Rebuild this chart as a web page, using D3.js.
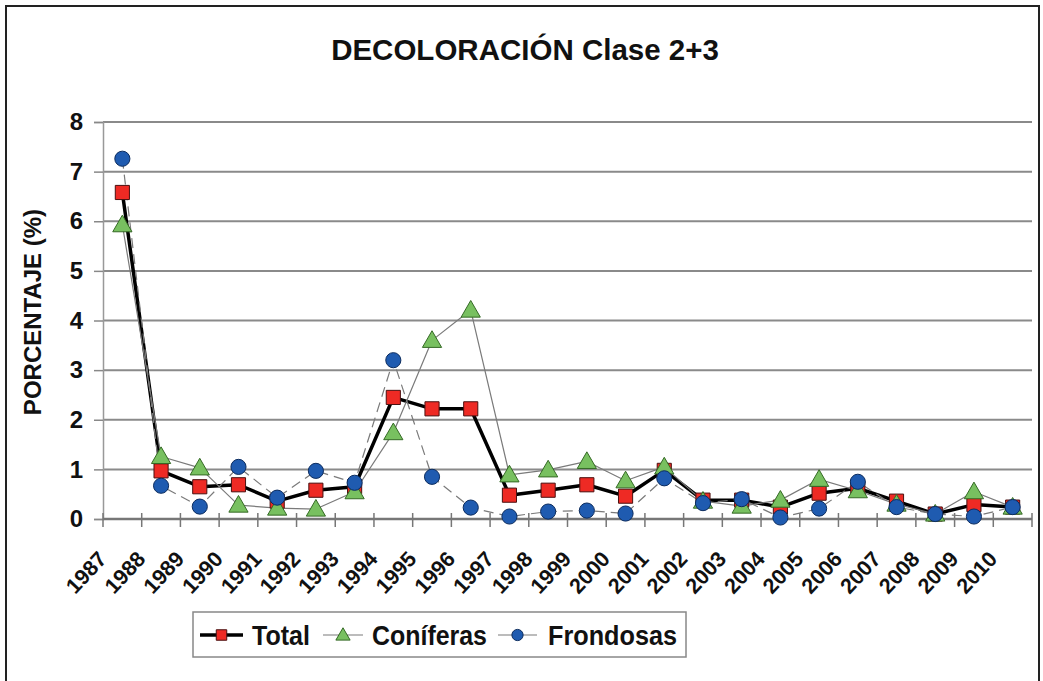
<!DOCTYPE html>
<html>
<head>
<meta charset="utf-8">
<style>
  body { margin: 0; background: #fff; }
  svg { display: block; font-family: "Liberation Sans", Arial, sans-serif; }
</style>
</head>
<body>
<svg id="chart" width="1043" height="681"></svg>
<script src="https://cdn.jsdelivr.net/npm/d3@7"></script>
<script>

var years = ["1987", "1988", "1989", "1990", "1991", "1992", "1993", "1994", "1995", "1996", "1997", "1998",
             "1999", "2000", "2001", "2002", "2003", "2004", "2005", "2006", "2007", "2008", "2009", "2010"];
var total = [6.58, 0.97, 0.65, 0.69, 0.36, 0.58, 0.65, 2.45, 2.22, 2.22, 0.48, 0.58,
             0.69, 0.46, 0.98, 0.38, 0.38, 0.24, 0.52, 0.62, 0.36, 0.10, 0.29, 0.24];
var coniferas = [5.93, 1.26, 1.03, 0.28, 0.22, 0.20, 0.55, 1.74, 3.60, 4.21, 0.89, 0.99,
                 1.16, 0.77, 1.05, 0.36, 0.26, 0.38, 0.80, 0.57, 0.30, 0.10, 0.55, 0.24];
var frondosas = [7.26, 0.67, 0.25, 1.05, 0.43, 0.97, 0.73, 3.20, 0.85, 0.23, 0.05, 0.15,
                 0.17, 0.11, 0.82, 0.32, 0.40, 0.03, 0.21, 0.75, 0.24, 0.10, 0.05, 0.24];
var yTicks = [0, 1, 2, 3, 4, 5, 6, 7, 8];
var seriesNames = ["Total", "Coníferas", "Frondosas"];

var svg = d3.select("svg#chart"),
    margin = {top: 122, right: 11, bottom: 162, left: 103},
    width = +svg.attr("width") - margin.left - margin.right,
    height = +svg.attr("height") - margin.top - margin.bottom;

// outer frame
svg.append("rect")
    .attr("x", 6).attr("y", 6)
    .attr("width", 1033).attr("height", 690)
    .attr("fill", "#fff")
    .attr("stroke", "#222")
    .attr("stroke-width", 2);

svg.append("text")
    .attr("x", 525).attr("y", 60)
    .attr("text-anchor", "middle")
    .attr("font-size", 29.5)
    .attr("font-weight", "bold")
    .attr("fill", "#111")
    .text("DECOLORACIÓN Clase 2+3");

var g = svg.append("g").attr("transform", "translate(" + margin.left + "," + margin.top + ")");

var x = d3.scaleBand().domain(years).range([0, width]);
var y = d3.scaleLinear().domain([0, 8]).range([height, 0]);

// gridlines
g.append("g")
    .selectAll("line")
    .data(yTicks.filter(function(d) { return d > 0; }))
    .enter().append("line")
      .attr("x1", 0).attr("x2", width)
      .attr("y1", function(d) { return y(d); })
      .attr("y2", function(d) { return y(d); })
      .attr("stroke", "#8a8a8a")
      .attr("stroke-width", 2);

// y axis
var yAxis = g.append("g")
    .call(d3.axisLeft(y).tickValues(yTicks).tickSize(9).tickPadding(11).tickFormat(d3.format("d")));
yAxis.select(".domain").attr("stroke", "#999").attr("stroke-width", 1.5);
yAxis.selectAll(".tick line").attr("stroke", "#888").attr("stroke-width", 1.5);
yAxis.selectAll(".tick text")
    .attr("font-size", 24)
    .attr("font-weight", "bold")
    .attr("font-family", "Liberation Sans, Arial, sans-serif")
    .attr("fill", "#111");

// x axis: tick marks crossing at band boundaries
var xAxis = g.append("g").attr("transform", "translate(0," + height + ")");
xAxis.append("line")
    .attr("x1", 0).attr("x2", width)
    .attr("stroke", "#777").attr("stroke-width", 2.5);
xAxis.selectAll("line.tk")
    .data(years.concat(["end"]))
    .enter().append("line")
      .attr("class", "tk")
      .attr("x1", function(d, i) { return i < years.length ? x(d) : width; })
      .attr("x2", function(d, i) { return i < years.length ? x(d) : width; })
      .attr("y1", -6).attr("y2", 8)
      .attr("stroke", "#777").attr("stroke-width", 1.5);
xAxis.selectAll("text")
    .data(years)
    .enter().append("text")
      .attr("transform", function(d) { return "translate(" + (x(d) + 5) + ",41) rotate(-47)"; })
      .attr("text-anchor", "end")
      .attr("font-size", 21.5)
      .attr("font-weight", "bold")
      .attr("fill", "#111")
      .text(function(d) { return d; });

// y axis title
svg.append("text")
    .attr("transform", "translate(41,312) rotate(-90)")
    .attr("text-anchor", "middle")
    .attr("font-size", 24)
    .attr("font-weight", "bold")
    .attr("fill", "#111")
    .text("PORCENTAJE (%)");

var cx = function(d, i) { return x(years[i]) + x.bandwidth() / 2; };
var line = d3.line()
    .x(function(d, i) { return cx(d, i); })
    .y(function(d) { return y(d); });

var styles = [
  {line: "#000", lw: 3.5, dash: null, shape: d3.symbolSquare, size: 200, fill: "#ee2a24", stroke: "#4a1010"},
  {line: "#7a7a7a", lw: 1.2, dash: null, shape: d3.symbolTriangle, size: 160, fill: "#78c060", stroke: "#356a25"},
  {line: "#7a7a7a", lw: 1.2, dash: "10,6", shape: d3.symbolCircle, size: 180, fill: "#1f5bb0", stroke: "#0c2c5e"}
];
var allSeries = [total, coniferas, frondosas];

allSeries.forEach(function(data, k) {
  var s = styles[k];
  g.append("path")
      .datum(data)
      .attr("fill", "none")
      .attr("stroke", s.line)
      .attr("stroke-width", s.lw)
      .attr("stroke-dasharray", s.dash)
      .attr("stroke-linejoin", "round")
      .attr("d", line);
});

allSeries.forEach(function(data, k) {
  var s = styles[k];
  g.append("g")
    .selectAll("path")
    .data(data)
    .enter().append("path")
      .attr("transform", function(d, i) { return "translate(" + cx(d, i) + "," + (y(d) + (k == 1 ? 1.5 : 0)) + ")"; })
      .attr("d", d3.symbol().type(s.shape).size(s.size))
      .attr("fill", s.fill)
      .attr("stroke", s.stroke)
      .attr("stroke-width", 1);
});

// legend
var legend = svg.append("g");
legend.append("rect")
    .attr("x", 193).attr("y", 612)
    .attr("width", 493).attr("height", 45)
    .attr("fill", "#fff")
    .attr("stroke", "#888")
    .attr("stroke-width", 1.5);

var legendItems = [
  {x1: 200, x2: 243, tx: 252, tw: 58},
  {x1: 323, x2: 363, tx: 372, tw: 115},
  {x1: 498, x2: 537, tx: 548, tw: 129}
];
legendItems.forEach(function(it, k) {
  var s = styles[k];
  legend.append("line")
      .attr("x1", it.x1).attr("x2", it.x2)
      .attr("y1", 635).attr("y2", 635)
      .attr("stroke", s.line)
      .attr("stroke-width", s.lw);
  legend.append("path")
      .attr("transform", "translate(" + ((it.x1 + it.x2) / 2) + "," + (635 + (k == 1 ? 1 : 0)) + ")")
      .attr("d", d3.symbol().type(s.shape).size(s.size * 0.55))
      .attr("fill", s.fill)
      .attr("stroke", s.stroke)
      .attr("stroke-width", 1);
  legend.append("text")
      .attr("x", it.tx).attr("y", 645)
      .attr("font-size", 28)
      .attr("font-weight", "bold")
      .attr("fill", "#111")
      .attr("textLength", it.tw)
      .attr("lengthAdjust", "spacingAndGlyphs")
      .text(seriesNames[k]);
});

</script>
</body>
</html>
